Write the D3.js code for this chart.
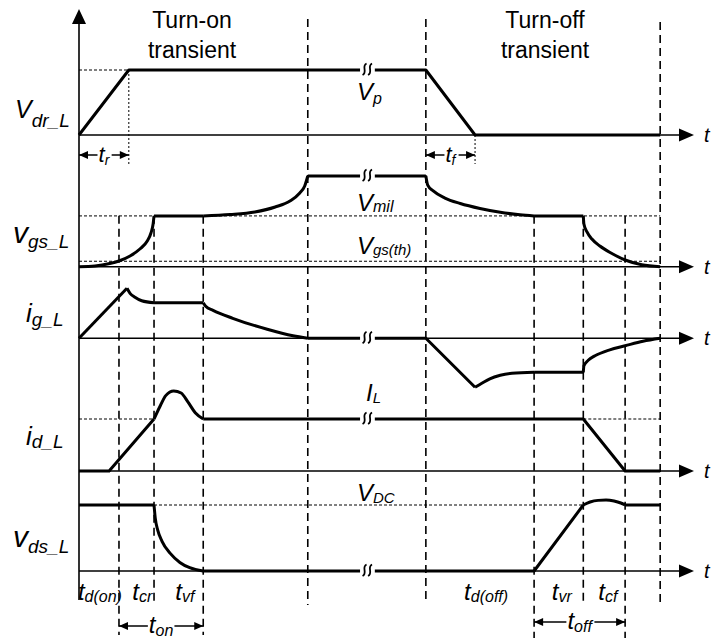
<!DOCTYPE html>
<html>
<head>
<meta charset="utf-8">
<script src="https://cdn.jsdelivr.net/npm/d3@7"></script>
<style>
  html, body { margin: 0; padding: 0; background: #fff; }
  svg { display: block; }
  text { font-family: "Liberation Sans", Arial, sans-serif; fill: #000; }
</style>
</head>
<body>
<svg id="chart" width="714" height="642"></svg>
<script>
// ---- Waveform data (time in arbitrary units 0..100, amplitudes normalised) ----
// Each row is a list of segments: [kind, points], kind = "line" | "curve".
const vdrSegs = [
  ["line", [[0, 0], [8.1, 1], [56.4, 1], [64.4, 0], [94.5, 0]]]
];
const vgsSegs = [
  ["curve", [[0, 0], [2.6, 0.008], [5.0, 0.035], [6.5, 0.063], [8.3, 0.118], [9.9, 0.195], [11.1, 0.283], [11.7, 0.372], [12.05, 0.471], [12.2, 0.56]]],
  ["line",  [[12.2, 0.56], [20.2, 0.56]]],
  ["curve", [[20.2, 0.56], [24.6, 0.575], [28.6, 0.603], [31.9, 0.658], [34.3, 0.724], [35.9, 0.813], [36.7, 0.89], [37.2, 1]]],
  ["line",  [[37.2, 1], [56.4, 1]]],
  ["curve", [[56.4, 1], [56.7, 0.90], [57.6, 0.835], [59.5, 0.757], [62.0, 0.697], [65.2, 0.642], [68.5, 0.60], [71.7, 0.573], [74.0, 0.56]]],
  ["line",  [[74.0, 0.56], [82.0, 0.56]]],
  ["curve", [[82.0, 0.56], [82.1, 0.471], [82.6, 0.383], [83.4, 0.305], [84.7, 0.228], [86.5, 0.151], [88.8, 0.074], [91.5, 0.022], [94.5, 0]]]
];
const igSegs = [
  ["line",  [[0, 0], [7.8, 1]]],
  ["curve", [[7.8, 1], [8.3, 0.9], [9.1, 0.82], [10.2, 0.75], [12.2, 0.71]]],
  ["line",  [[12.2, 0.71], [20.2, 0.71]]],
  ["curve", [[20.2, 0.71], [20.6, 0.64], [21.8, 0.56], [25.0, 0.40], [30.6, 0.18], [34.8, 0.05], [37.2, 0]]],
  ["line",  [[37.2, 0], [56.4, 0], [64.4, -0.98]]],
  ["curve", [[64.4, -0.98], [65.5, -0.9], [66.8, -0.81], [68.5, -0.74], [70.4, -0.70], [74.0, -0.68]]],
  ["line",  [[74.0, -0.68], [82.0, -0.68]]],
  ["curve", [[82.0, -0.68], [82.1, -0.55], [82.8, -0.44], [83.9, -0.35], [86.3, -0.23], [88.8, -0.15], [91.7, -0.06], [94.5, 0]]]
];
const idSegs = [
  ["line",  [[0, 0], [4.9, 0], [12.2, 1]]],
  ["curve", [[12.2, 1], [13.2, 1.25], [14.1, 1.45], [15.4, 1.54], [16.6, 1.5], [17.7, 1.33], [18.9, 1.12], [20.2, 1]]],
  ["line",  [[20.2, 1], [82.0, 1], [88.8, 0], [94.5, 0]]]
];
const vdsSegs = [
  ["line",  [[0, 1], [12.2, 1]]],
  ["curve", [[12.2, 1], [12.4, 0.8], [12.8, 0.62], [13.5, 0.45], [14.8, 0.27], [16.4, 0.13], [18.0, 0.05], [20.2, 0]]],
  ["line",  [[20.2, 0], [74.0, 0], [82.0, 1]]],
  ["curve", [[82.0, 1], [83.1, 1.045], [84.4, 1.07], [85.7, 1.075], [87.0, 1.06], [88.1, 1.03], [88.8, 1]]],
  ["line",  [[88.8, 1], [94.5, 1]]]
];

// Switching instants (dashed markers) and driver edge ends
const instants = [6.5, 12.2, 20.2, 37.2, 56.4, 74.0, 82.0, 88.8, 94.5];
const riseEnd = 8.1, fallEnd = 64.4;
const breakSpan = [45.7, 48.1];

// Reference levels
const vpLevel = 1, vmilLevel = 0.56, vthLevel = 0.06, ilLevel = 1, vdcLevel = 1;

// Row labels: [main symbol, subscript]
const rowLabels = [["V", "dr_L"], ["v", "gs_L"], ["i", "g_L"], ["i", "d_L"], ["v", "ds_L"]];
const intervalLabels = [["d(on)", 3.4], ["cr", 10.3], ["vf", 17.2], ["d(off)", 66.2], ["vr", 78.5], ["cf", 86.0]];
const titles = [["Turn-on", "transient"], ["Turn-off", "transient"]];

// ---- Layout ----
const svg = d3.select("#chart");
const x = d3.scaleLinear().domain([0, 100]).range([79, 694]);
const rowLayout = [
  { base: 135,   unit: 65 },
  { base: 266.7, unit: 90.7 },
  { base: 338.3, unit: 50 },
  { base: 471,   unit: 52 },
  { base: 571,   unit: 66 }
];
const ys = rowLayout.map(r => d3.scaleLinear().domain([0, 1]).range([r.base, r.base - r.unit]));
const rows = [vdrSegs, vgsSegs, igSegs, idSegs, vdsSegs];
const dashSpans = [[215.7, 635], [215.7, 603], [215.7, 635], [19, 605], [19, 603], [215.7, 638], [215.7, 603], [215.7, 638], [22, 605]];

const thin = { stroke: "#000", "stroke-width": 1, "stroke-dasharray": "3,2", fill: "none" };
function applyAttrs(sel, o) { Object.entries(o).forEach(([k, v]) => sel.attr(k, v)); return sel; }

// Thin dashed reference levels
const refs = svg.append("g");
function hRef(row, level, t0, t1) {
  applyAttrs(refs.append("line").attr("x1", x(t0)).attr("x2", x(t1))
    .attr("y1", ys[row](level)).attr("y2", ys[row](level)), thin);
}
hRef(0, vpLevel, 0, riseEnd);
hRef(1, vmilLevel, 0, instants[8]);
hRef(1, vthLevel, 0, instants[8]);
hRef(3, ilLevel, 0, instants[1]);
hRef(3, ilLevel, instants[6], instants[8]);
hRef(4, vdcLevel, instants[1], instants[6]);
// dotted edge-end markers for the driver ramp
applyAttrs(refs.append("line").attr("x1", x(riseEnd)).attr("x2", x(riseEnd))
  .attr("y1", ys[0](1)).attr("y2", 164), { stroke: "#000", "stroke-width": 1, "stroke-dasharray": "2,2" });
applyAttrs(refs.append("line").attr("x1", x(fallEnd)).attr("x2", x(fallEnd))
  .attr("y1", ys[0](0)).attr("y2", 164), { stroke: "#000", "stroke-width": 1, "stroke-dasharray": "2,2" });

// Long-dash instant markers
svg.append("g").selectAll("line").data(instants).join("line")
  .attr("x1", d => x(d)).attr("x2", d => x(d))
  .attr("y1", (d, i) => dashSpans[i][0]).attr("y2", (d, i) => dashSpans[i][1])
  .attr("stroke", "#000").attr("stroke-width", 1.6).attr("stroke-dasharray", "8,5");

// Axes
const axes = svg.append("g");
axes.append("line").attr("x1", x(0)).attr("x2", x(0)).attr("y1", 600).attr("y2", 20)
  .attr("stroke", "#000").attr("stroke-width", 1.6);
axes.append("path").attr("d", `M${x(0)},9 L${x(0) - 7},24 L${x(0) + 7},24 Z`).attr("fill", "#000");
rowLayout.forEach((r, i) => {
  axes.append("line").attr("x1", x(0)).attr("x2", x(100) - 10).attr("y1", ys[i](0)).attr("y2", ys[i](0))
    .attr("stroke", "#000").attr("stroke-width", 1.6);
  axes.append("path").attr("d", `M${x(100)},${ys[i](0)} L${x(100) - 15},${ys[i](0) - 6.5} L${x(100) - 15},${ys[i](0) + 6.5} Z`)
    .attr("fill", "#000");
  axes.append("text").attr("x", 704).attr("y", ys[i](0) + 7).attr("font-size", 20)
    .attr("font-style", "italic").text("t");
});

// Waveforms
const wave = svg.append("g");
rows.forEach((segs, i) => {
  segs.forEach(([kind, pts]) => {
    const gen = d3.line().x(d => x(d[0])).y(d => ys[i](d[1]))
      .curve(kind === "curve" ? d3.curveMonotoneX : d3.curveLinear);
    wave.append("path").attr("d", gen(pts)).attr("fill", "none")
      .attr("stroke", "#000").attr("stroke-width", 3).attr("stroke-linejoin", "round");
  });
});

// Time-axis breaks
const breakLevels = [[0, 1], [1, 1], [2, 0], [3, 1], [4, 0]];
const brk = svg.append("g");
breakLevels.forEach(([row, lvl]) => {
  const yy = ys[row](lvl);
  brk.append("rect").attr("x", x(breakSpan[0])).attr("y", yy - 3)
    .attr("width", x(breakSpan[1]) - x(breakSpan[0])).attr("height", 6).attr("fill", "#fff");
  [x(breakSpan[0]) + 4.5, x(breakSpan[0]) + 10].forEach(cx => {
    brk.append("path")
      .attr("d", `M${cx + 2},${yy - 6.5} C${cx - 3.5},${yy - 4} ${cx + 3.5},${yy + 2} ${cx - 2},${yy + 5}`)
      .attr("fill", "none").attr("stroke", "#000").attr("stroke-width", 1.8);
  });
});

// Text helpers
function symbol(g, px, py, main, sub, mainSize, subSize, dy, anchor) {
  const t = g.append("text").attr("x", px).attr("y", py).attr("font-style", "italic")
    .attr("text-anchor", anchor || "start");
  t.append("tspan").attr("font-size", mainSize).text(main);
  t.append("tspan").attr("font-size", subSize).attr("dy", dy).text(sub);
  return t;
}
const labels = svg.append("g");

// Row labels
const rowLabelPos = [
  { x: 15, y: 118, size: 25, dy: 9 },
  { x: 13, y: 243, size: 30, dy: 5 },
  { x: 26, y: 322, size: 26, dy: 4 },
  { x: 26, y: 445, size: 26, dy: 3 },
  { x: 13, y: 547, size: 30, dy: 6 }
];
rowLabels.forEach(([m, s], i) => {
  const p = rowLabelPos[i];
  symbol(labels, p.x, p.y, m, s, p.size, 19, p.dy);
});

// Level annotations
symbol(labels, 357, 100, "V", "p", 24, 16, 4);
symbol(labels, 357, 211, "V", "mil", 24, 16, 1);
symbol(labels, 357, 254, "V", "gs(th)", 24, 15, 1);
symbol(labels, 366, 401, "I", "L", 24, 15, 2);
symbol(labels, 357, 501, "V", "DC", 24, 15, 2);

// Titles
titles.forEach(([a, b], i) => {
  const cx = i === 0 ? 192 : 545;
  labels.append("text").attr("x", cx).attr("y", 28).attr("text-anchor", "middle").attr("font-size", 23).text(a);
  labels.append("text").attr("x", cx).attr("y", 58).attr("text-anchor", "middle").attr("font-size", 23).text(b);
});

// Interval labels along the bottom
intervalLabels.forEach(([s, t]) => symbol(labels, x(t), 600, "t", s, 24, 16, 2, "middle"));

// Dimension arrows with labels
function dimArrow(t0, t1, yy, sub, mainSize, subSize) {
  const cx = (x(t0) + x(t1)) / 2;
  const lab = symbol(labels, cx, yy + 7, "t", sub, mainSize, subSize, 3, "middle");
  const bb = lab.node().getBBox();
  const g = labels.append("g");
  const xa = x(t0), xb = x(t1);
  g.append("line").attr("x1", xa).attr("x2", bb.x - 1).attr("y1", yy).attr("y2", yy).attr("stroke", "#000").attr("stroke-width", 1.5);
  g.append("line").attr("x1", bb.x + bb.width + 1).attr("x2", xb).attr("y1", yy).attr("y2", yy).attr("stroke", "#000").attr("stroke-width", 1.5);
  g.append("path").attr("d", `M${xa},${yy} L${xa + 9},${yy - 4} L${xa + 9},${yy + 4} Z`).attr("fill", "#000");
  g.append("path").attr("d", `M${xb},${yy} L${xb - 9},${yy - 4} L${xb - 9},${yy + 4} Z`).attr("fill", "#000");
}
dimArrow(0, riseEnd, 155, "r", 22, 14);
dimArrow(instants[4], fallEnd, 155, "f", 22, 14);
dimArrow(instants[0], instants[2], 626, "on", 24, 16);
dimArrow(instants[5], instants[7], 622, "off", 24, 16);
</script>
</body>
</html>
